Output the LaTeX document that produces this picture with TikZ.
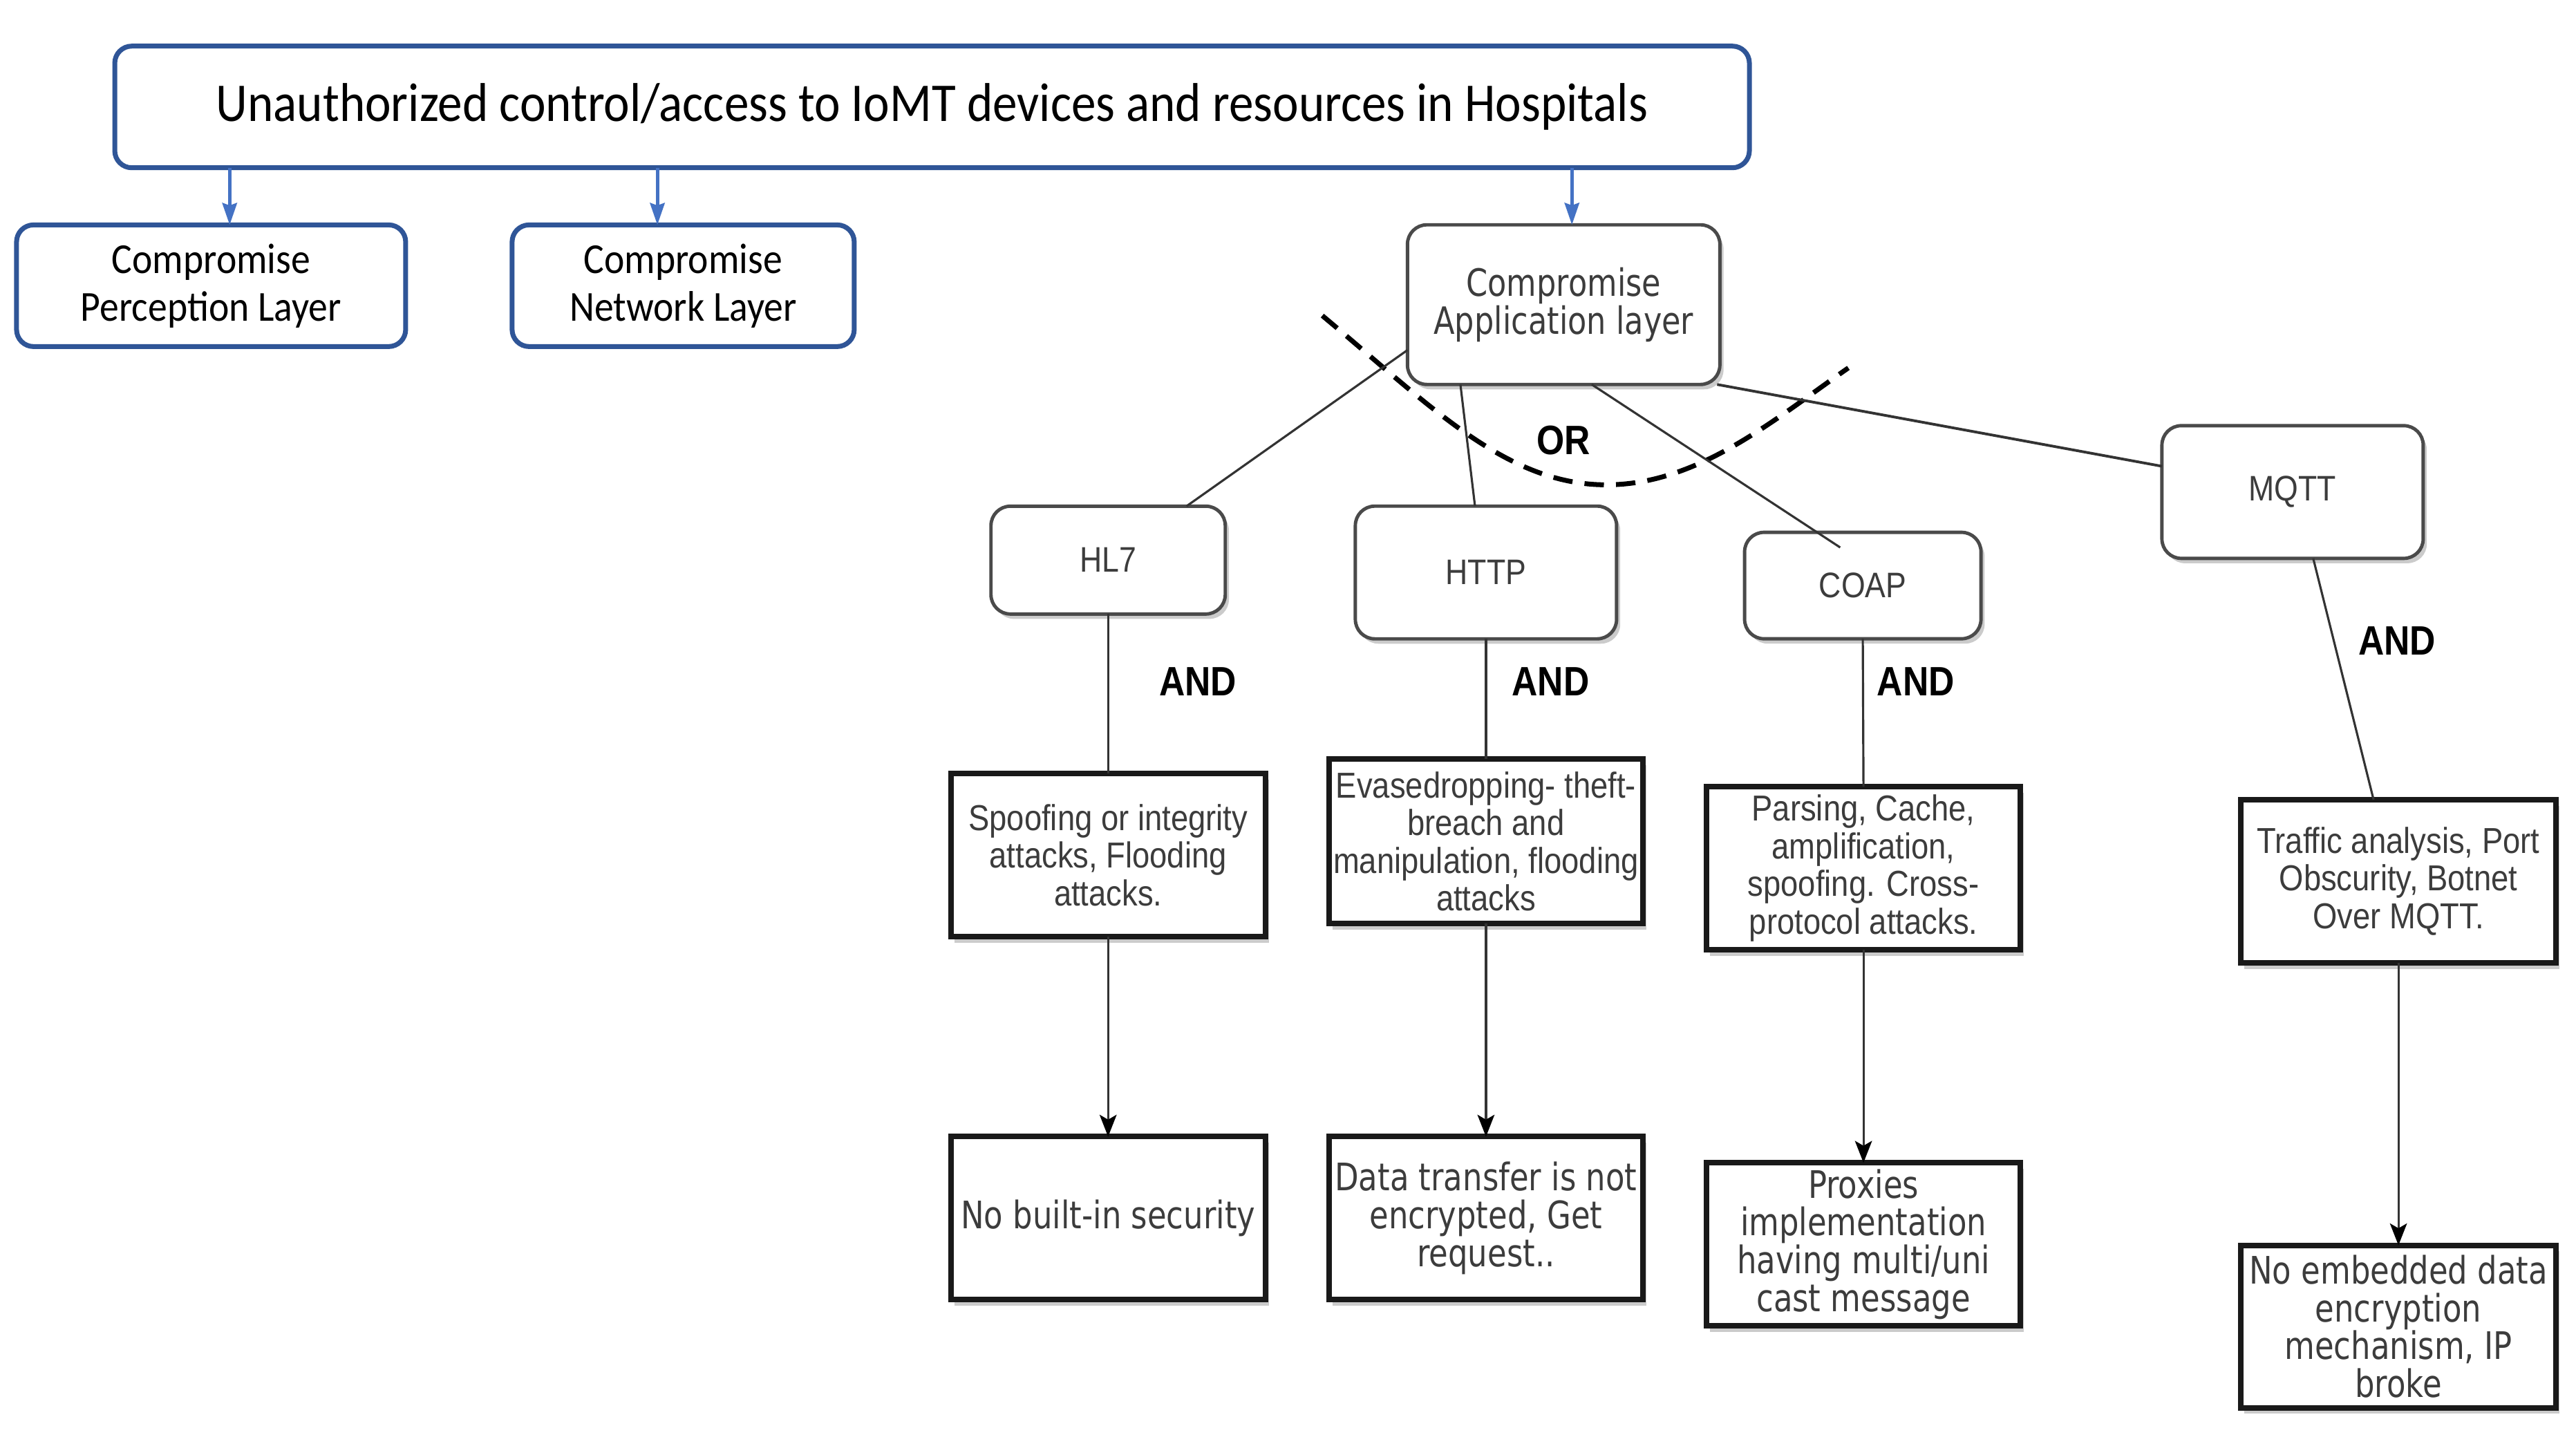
\documentclass[tikz,border=0pt]{standalone}
\usepackage{fontspec}
\setmainfont{Liberation Sans}
\newfontfamily\fcal[FakeStretch=0.9]{Carlito}
\newfontfamily\farial[FakeStretch=0.87]{Liberation Sans}
\newfontfamily\fdv[FakeStretch=0.82]{DejaVu Sans}
\usetikzlibrary{arrows.meta,calc,shadows}
\definecolor{bborder}{HTML}{2F5597}
\definecolor{barrowc}{HTML}{4472C4}
\definecolor{gborder}{HTML}{4A4A4A}
\definecolor{gtext}{HTML}{3C3C3C}
\definecolor{conn}{HTML}{333333}
\tikzset{
  bluebox/.style={draw=bborder, line width=2pt, rounded corners=7pt, fill=white,
    inner sep=0pt, outer sep=0pt, align=center, text=black},
  toptext/.style={font=\fcal\fontsize{22.5}{27}\selectfont},
  layertext/.style={font=\fcal\fontsize{17.6}{19.7}\selectfont},
  protobox/.style={draw=gborder, line width=1.4pt, rounded corners=8pt, fill=white,
    inner sep=0pt, outer sep=0pt, align=center, text=gtext,
    drop shadow={shadow xshift=1.5pt, shadow yshift=-2pt, fill=black!45, opacity=0.45}},
  apptext/.style={font=\fdv\fontsize{15.5}{15.7}\selectfont},
  prototext/.style={font=\farial\fontsize{14.6}{16}\selectfont},
  attackbox/.style={draw=black!90, line width=2.3pt, fill=white,
    inner sep=0pt, outer sep=0pt, align=center, text=gtext,
    font=\farial\fontsize{14.85}{15.5}\selectfont,
    drop shadow={shadow xshift=1.5pt, shadow yshift=-2.5pt, fill=black!45, opacity=0.45}},
  vulnbox/.style={draw=black!90, line width=2.3pt, fill=white,
    inner sep=0pt, outer sep=0pt, align=center, text=gtext,
    font=\fdv\fontsize{15.6}{15.6}\selectfont,
    drop shadow={shadow xshift=1.5pt, shadow yshift=-2.5pt, fill=black!45, opacity=0.45}},
  gatelabel/.style={font=\farial\bfseries\fontsize{16.9}{18}\selectfont, text=black, inner sep=0pt},
  barrow/.style={draw=barrowc, line width=1.4pt, -{Stealth[length=9pt,width=6pt,inset=1pt]}},
  conline/.style={draw=conn, line width=0.9pt},
  conarrow/.style={draw=conn, line width=0.9pt, -{Stealth[length=9pt,width=7pt,inset=2pt,color=black]}},
}
\begin{document}
\begin{tikzpicture}[x=0.00995cm, y=-0.00995cm]
\useasboundingbox (0cm,0cm) rectangle (37.27cm,-21.04cm);

% top goal
\node[bluebox, toptext, minimum width=23.65cm, minimum height=1.76cm] (top) at (1355.5,155.5)
  {Unauthorized control/access to IoMT devices and resources in Hospitals};

% layers
\node[bluebox, layertext, minimum width=5.63cm, minimum height=1.76cm] (perc) at (307,415.5)
  {Compromise\\Perception Layer};
\node[bluebox, layertext, minimum width=4.95cm, minimum height=1.76cm] (net) at (993.5,415.5)
  {Compromise\\Network Layer};
\node[protobox, apptext, minimum width=4.52cm, minimum height=2.31cm] (app) at (2274,443)
  {Compromise\\Application layer};

% blue arrows
\coordinate (b1) at (334,0);
\coordinate (b2) at (956,0);
\coordinate (b3) at (2286,0);
\draw[barrow] (top.south -| b1) -- (perc.north -| b1);
\draw[barrow] (top.south -| b2) -- (net.north -| b2);
\draw[barrow] (top.south -| b3) -- (app.north -| b3);

% protocols
\node[protobox, prototext, minimum width=3.39cm, minimum height=1.56cm] (hl7) at (1611.5,814.5) {HL7};
\node[protobox, prototext, minimum width=3.78cm, minimum height=1.92cm] (http) at (2161,832.5) {HTTP};
\node[protobox, prototext, minimum width=3.42cm, minimum height=1.54cm] (coap) at (2709,851.5) {COAP};
\node[protobox, prototext, minimum width=3.78cm, minimum height=1.92cm] (mqtt) at (3334,715.5) {MQTT};

% OR arc
\draw[line width=2pt, dash pattern=on 8pt off 5pt, black]
  (1923,459) .. controls (2080,590) and (2190,705) .. (2336,705)
  .. controls (2470,705) and (2580,610) .. (2688,535);
\node[gatelabel] (orlab) at (2274,640) {OR};

% connectors from application layer
\draw[conline] ($(app.south west)+(0,-50)$) -- ($(hl7.north)+(114,0)$);
\draw[conline] ($(app.south west)+(77,0)$) -- ($(http.north west)+(174,0)$);
\draw[conline] ($(app.south west)+(268,0)$) -- ($(coap.north west)+(139,22)$);
\draw[conline, line width=1.1pt] ($(app.south east)+(-4,0)$) -- ($(mqtt.north west)+(0,59)$);

% attack boxes
\node[attackbox, minimum width=4.55cm, minimum height=2.36cm] (hl7a) at (1611.5,1243.5)
  {Spoofing or integrity\\attacks, Flooding\\attacks.};
\node[attackbox, minimum width=4.54cm, minimum height=2.38cm] (httpa) at (2161,1223.5)
  {Evasedropping- theft-\\breach and\\manipulation, flooding\\attacks};
\node[attackbox, minimum width=4.54cm, minimum height=2.36cm] (coapa) at (2710,1262.5)
  {Parsing, Cache,\\amplification,\\spoofing. Cross-\\protocol attacks.};
\node[attackbox, minimum width=4.56cm, minimum height=2.36cm] (mqtta) at (3488,1281.5)
  {Traffic analysis, Port\\Obscurity, Botnet\\Over MQTT.};

% AND lines
\draw[conline] (hl7.south) -- (hl7a.north);
\draw[conline] (http.south) -- (httpa.north);
\draw[conline] (coap.south) -- (coapa.north);
\draw[conline] ($(mqtt.south west)+(220,0)$) -- ($(mqtta.north west)+(193,0)$);
\node[gatelabel] (and1) at (1742,991) {AND};
\node[gatelabel] (and2) at (2255,991) {AND};
\node[gatelabel] (and3) at (2786,991) {AND};
\node[gatelabel] (and4) at (3486,932) {AND};

% vulnerability boxes
\node[vulnbox, minimum width=4.55cm, minimum height=2.36cm] (hl7b) at (1611.5,1771.5)
  {No built-in security};
\node[vulnbox, minimum width=4.54cm, minimum height=2.36cm] (httpb) at (2161,1771.5)
  {Data transfer is not\\encrypted, Get\\request..};
\node[vulnbox, minimum width=4.54cm, minimum height=2.36cm] (coapb) at (2710,1809.5)
  {Proxies\\implementation\\having multi/uni\\cast message};
\node[vulnbox, minimum width=4.56cm, minimum height=2.35cm] (mqttb) at (3488,1929)
  {No embedded data\\encryption\\mechanism, IP\\broke};

% arrows
\draw[conarrow] (hl7a.south) -- (hl7b.north);
\draw[conarrow] (httpa.south) -- (httpb.north);
\draw[conarrow] (coapa.south) -- (coapb.north);
\draw[conarrow] (mqtta.south) -- (mqttb.north);
\end{tikzpicture}
\end{document}
